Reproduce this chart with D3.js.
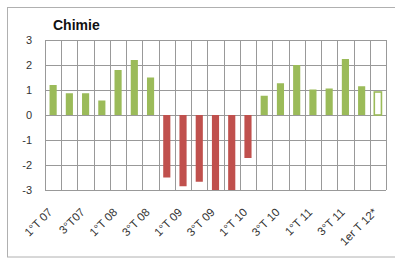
<!DOCTYPE html>
<html>
<head>
<meta charset="utf-8">
<script src="https://cdn.jsdelivr.net/npm/d3@7"></script>
<style>
body { margin:0; background:#fff; }
text { font-family: "Liberation Sans", Arial, sans-serif; }
</style>
</head>
<body>
<script>
// quarters, one bar each
var quarters = ["1°T 07","2°T 07","3°T07","4°T 07","1°T 08","2°T 08","3°T 08","4°T 08",
  "1°T 09","2°T 09","3°T 09","4°T 09","1°T 10","2°T 10","3°T 10","4°T 10",
  "1°T 11","2°T 11","3°T 11","4°T 11","1er T 12*"]
var values = [1.2, 0.87, 0.87, 0.58, 1.8, 2.2, 1.5,
  -2.5, -2.85, -2.67, -3.0, -3.0, -1.72,
  0.77, 1.27, 2.0, 1.02, 1.06, 2.24, 1.15, 0.92]
// last quarter is provisional -> drawn hollow
var provisional = ["1er T 12*"]
var shownLabels = ["1°T 07","3°T07","1°T 08","3°T 08","1°T 09","3°T 09","1°T 10","3°T 10","1°T 11","3°T 11","1er T 12*"]
var yTicks = [-3,-2,-1,0,1,2,3]

var W = 395, H = 260
var svg = d3.select("body").append("svg").attr("width",W).attr("height",H)

// chart frame
svg.append("rect").attr("x",7.5).attr("y",7.5).attr("width",400).attr("height",249.5)
  .attr("fill","#fff").attr("stroke","#b0b0b0").attr("stroke-width",1)

svg.append("text").attr("x",53).attr("y",30).text("Chimie")
  .attr("font-size",14).attr("font-weight","bold").attr("fill","#111")

var x = d3.scaleBand().domain(quarters).range([45,386]).padding(0)
var y = d3.scaleLinear().domain([-3,3]).range([190,40]).clamp(true)

var grid = svg.append("g").attr("stroke","#999").attr("stroke-width",1)
grid.selectAll(".hl").data(yTicks).enter().append("line")
  .attr("x1",45).attr("x2",386)
  .attr("y1",function(d){ return Math.round(y(d))+0.5 })
  .attr("y2",function(d){ return Math.round(y(d))+0.5 })

var bounds = quarters.map(function(q){ return x(q) }).concat([x.range()[1]])
grid.selectAll(".vl").data(bounds).enter().append("line")
  .attr("x1",function(d){ return Math.round(d)+0.5 })
  .attr("x2",function(d){ return Math.round(d)+0.5 })
  .attr("y1",40).attr("y2",190)

// y labels
svg.append("g").selectAll("text").data(yTicks).enter().append("text")
  .attr("x",32).attr("y",function(d){ return y(d)+4 })
  .attr("text-anchor","end").attr("font-size",11).attr("fill","#333")
  .text(function(d){ return d })

var bw = x.bandwidth()*0.44
svg.append("g").selectAll("rect").data(values).enter().append("rect")
  .attr("x",function(d,i){ return x(quarters[i]) + (x.bandwidth()-bw)/2 })
  .attr("y",function(d){ return Math.min(y(d),y(0)) })
  .attr("width",bw)
  .attr("height",function(d){ return Math.abs(y(d)-y(0)) })
  .attr("fill",function(d,i){
    if (provisional.indexOf(quarters[i])>=0) return "#fff"
    return d<0 ? "#c0504d" : "#9bbb59"
  })
  .attr("stroke",function(d,i){ return provisional.indexOf(quarters[i])>=0 ? "#9bbb59" : "none" })
  .attr("stroke-width",1.6)

// rotated category labels, every other quarter
svg.append("g").selectAll("text").data(shownLabels).enter().append("text")
  .attr("transform",function(d){
    return "translate(" + (x(d)+x.bandwidth()/2) + ",213) rotate(-45)"
  })
  .attr("text-anchor","end").attr("font-size",11.5).attr("fill","#333")
  .text(function(d){ return d })
</script>
</body>
</html>
